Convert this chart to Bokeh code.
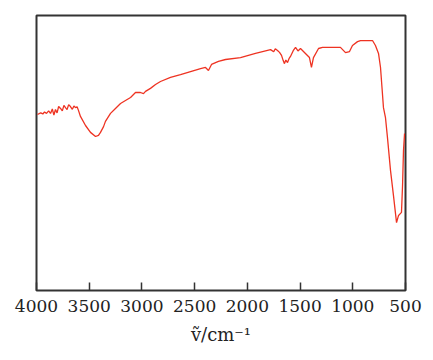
from bokeh.plotting import figure
from bokeh.models import Range1d, FixedTicker
from bokeh.embed import file_html
from bokeh.resources import INLINE

wavenumber = [3991, 3960, 3940, 3924, 3905, 3885, 3867, 3850, 3835, 3820, 3805, 3790, 3772,
              3755, 3740, 3725, 3710, 3695, 3678, 3660, 3645, 3630, 3615, 3602, 3583,
              3535, 3488, 3440, 3412, 3393, 3364, 3346, 3298, 3251, 3203, 3156, 3108,
              3061, 3014, 2985, 2966, 2919, 2871, 2824, 2729, 2634, 2539, 2444, 2397,
              2369, 2340, 2274, 2207, 2065, 1923, 1856, 1780, 1750, 1735, 1714, 1695,
              1676, 1660, 1648, 1635, 1619, 1605, 1591, 1565, 1543, 1520, 1496, 1449,
              1411, 1392, 1373, 1325, 1287, 1117, 1069, 1031, 1003, 955, 927, 813,
              785, 756, 737, 723, 709, 690, 671, 642, 614, 585, 566, 538, 528, 519, 509]
transmittance = [64.0, 64.6, 64.2, 64.9, 64.4, 65.3, 64.4, 66.0, 63.8, 65.8, 64.6, 66.9, 66.2,
                 65.3, 67.3, 66.5, 65.8, 67.6, 66.9, 65.9, 67.1, 66.5, 66.8, 65.5, 63.3,
                 60.0, 57.5, 56.0, 56.4, 57.5, 59.6, 61.5, 64.4, 66.2, 68.0, 69.1, 70.2,
                 72.0, 72.0, 71.6, 72.4, 73.5, 74.9, 76.0, 77.5, 78.5, 79.6, 80.7, 81.1,
                 80.0, 82.2, 83.3, 84.0, 84.7, 86.2, 86.9, 87.6, 86.8, 87.9, 87.3, 86.6,
                 85.5, 83.6, 82.5, 83.8, 82.9, 84.3, 85.1, 87.2, 88.4, 87.1, 88.0, 86.2,
                 84.7, 81.1, 84.7, 88.0, 88.4, 88.4, 86.5, 86.9, 89.1, 90.5, 90.9, 90.9,
                 89.1, 86.2, 81.1, 73.8, 66.5, 62.9, 55.6, 43.6, 34.5, 24.7, 27.3, 28.4,
                 38.2, 50.9, 57.1]
tick_values = [4000, 3500, 3000, 2500, 2000, 1500, 1000, 500]

p = figure(width=425, height=353, output_backend="svg", toolbar_location=None,
           x_range=Range1d(4000, 500), y_range=Range1d(0, 100),
           min_border_left=36, min_border_right=20, min_border_top=15, min_border_bottom=63)

p.line(wavenumber, transmittance, line_color="#ee3322", line_width=1.3)

p.grid.visible = False
p.yaxis.visible = False
p.outline_line_color = "#333333"
p.outline_line_width = 2
p.outline_line_alpha = 1.0

ax = p.xaxis[0]
ax.ticker = FixedTicker(ticks=tick_values)
ax.axis_line_color = None
ax.major_tick_in = 8
ax.major_tick_out = 0
ax.major_tick_line_color = "#333333"
ax.major_tick_line_width = 1.5
ax.minor_tick_line_color = None
ax.major_label_text_font = "DejaVu Serif"
ax.major_label_text_font_size = "17px"
ax.major_label_text_color = "#222222"
ax.major_label_standoff = 9
ax.axis_label = "ṽ/cm⁻¹"
ax.axis_label_text_font = "DejaVu Serif"
ax.axis_label_text_font_size = "18px"
ax.axis_label_text_font_style = "normal"
ax.axis_label_text_color = "#222222"
ax.axis_label_standoff = 9

p.background_fill_color = "white"
p.border_fill_color = "white"

open("out.html", "w").write(file_html(p, INLINE))
